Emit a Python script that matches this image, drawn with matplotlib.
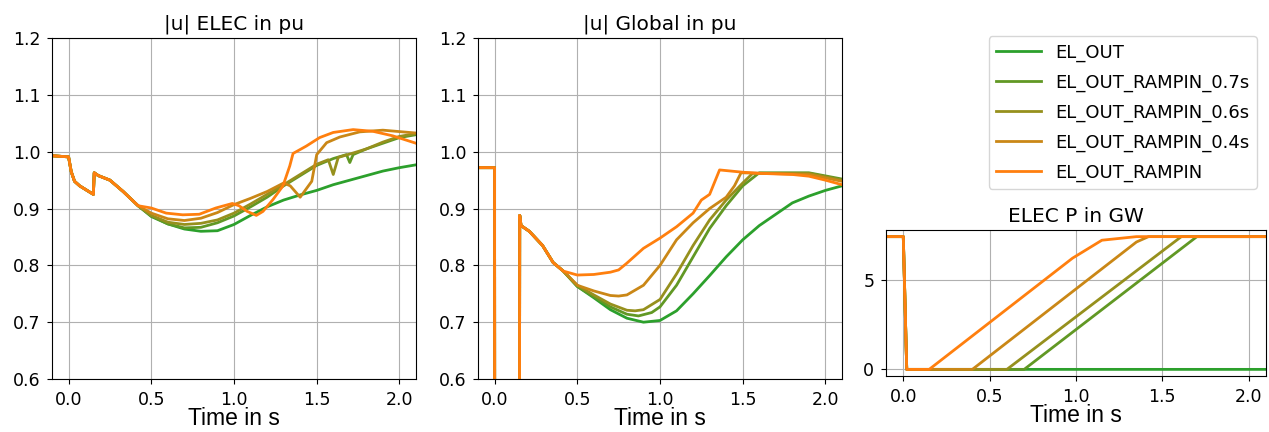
import numpy as np
import matplotlib.pyplot as plt

labels = ["EL_OUT", "EL_OUT_RAMPIN_0.7s", "EL_OUT_RAMPIN_0.6s",
          "EL_OUT_RAMPIN_0.4s", "EL_OUT_RAMPIN"]
colors = ["#2ca02c", "#619824", "#96901d", "#ca8716", "#ff7f0e"]

# |u| ELEC: common pre-fault / fault part, then one tail per case
elec_t_pre = [-0.1, 0.0, 0.016, 0.036, 0.067, 0.15, 0.155, 0.18, 0.25, 0.33, 0.42]
elec_u_pre = [0.993, 0.991, 0.965, 0.948, 0.940, 0.925, 0.963, 0.958, 0.950, 0.930, 0.905]

elec_t_out = [0.5, 0.6, 0.7, 0.8, 0.9, 1.0, 1.1, 1.2, 1.3, 1.4, 1.5, 1.6, 1.7, 1.8, 1.9, 2.0, 2.1]
elec_u_out = [0.886, 0.873, 0.864, 0.860, 0.861, 0.872, 0.888, 0.903, 0.915, 0.924, 0.932,
              0.942, 0.950, 0.958, 0.966, 0.972, 0.977]

elec_t_07 = [0.5, 0.6, 0.7, 0.8, 0.9, 1.0, 1.1, 1.2, 1.3, 1.4, 1.5, 1.6, 1.68, 1.70, 1.72,
             1.8, 1.9, 2.0, 2.1]
elec_u_07 = [0.887, 0.873, 0.866, 0.867, 0.875, 0.887, 0.903, 0.920, 0.940, 0.958, 0.976,
             0.988, 0.995, 0.981, 0.995, 1.005, 1.015, 1.025, 1.030]

elec_t_06 = [0.5, 0.6, 0.7, 0.8, 0.9, 1.0, 1.1, 1.2, 1.3, 1.4, 1.5, 1.57, 1.60, 1.63,
             1.7, 1.8, 1.9, 2.0, 2.1]
elec_u_06 = [0.888, 0.876, 0.872, 0.874, 0.880, 0.892, 0.908, 0.925, 0.942, 0.960, 0.978,
             0.986, 0.960, 0.990, 0.996, 1.005, 1.017, 1.027, 1.032]

elec_t_04 = [0.5, 0.6, 0.7, 0.8, 0.9, 1.0, 1.1, 1.2, 1.3, 1.34, 1.40, 1.47, 1.50, 1.56,
             1.64, 1.76, 1.9, 2.1]
elec_u_04 = [0.892, 0.882, 0.879, 0.883, 0.893, 0.907, 0.918, 0.930, 0.945, 0.940, 0.920,
             0.948, 0.995, 1.016, 1.026, 1.035, 1.038, 1.033]

elec_t_ramp = [0.5, 0.59, 0.69, 0.79, 0.89, 0.99, 1.03, 1.08, 1.135, 1.175, 1.236, 1.296,
               1.337, 1.357, 1.437, 1.518, 1.6, 1.72, 1.84, 1.96, 2.1]
elec_u_ramp = [0.901, 0.892, 0.889, 0.890, 0.901, 0.909, 0.905, 0.895, 0.888, 0.895, 0.916,
               0.940, 0.975, 0.997, 1.010, 1.025, 1.034, 1.039, 1.036, 1.028, 1.015]

# |u| Global
glob_t_pre = [-0.1, 0.0, 0.001, 0.15, 0.152, 0.16, 0.21, 0.29, 0.354, 0.415]
glob_u_pre = [0.972, 0.972, 0.3, 0.3, 0.888, 0.870, 0.860, 0.835, 0.805, 0.790]

glob_t_out = [0.5, 0.6, 0.7, 0.8, 0.9, 1.0, 1.1, 1.2, 1.3, 1.4, 1.5, 1.6, 1.7, 1.8, 1.9, 2.0, 2.1]
glob_u_out = [0.763, 0.743, 0.722, 0.707, 0.700, 0.703, 0.720, 0.750, 0.782, 0.815, 0.845,
              0.870, 0.890, 0.910, 0.922, 0.932, 0.940]

glob_t_07 = [0.5, 0.6, 0.7, 0.8, 0.87, 0.95, 1.0, 1.1, 1.2, 1.3, 1.4, 1.5, 1.6, 1.9, 2.1]
glob_u_07 = [0.763, 0.745, 0.727, 0.714, 0.711, 0.717, 0.727, 0.765, 0.815, 0.865, 0.905,
             0.940, 0.963, 0.963, 0.952]

glob_t_06 = [0.5, 0.6, 0.7, 0.8, 0.85, 0.9, 1.0, 1.1, 1.2, 1.3, 1.4, 1.5, 1.56, 1.9, 2.1]
glob_u_06 = [0.765, 0.748, 0.732, 0.721, 0.720, 0.722, 0.740, 0.785, 0.835, 0.880, 0.915,
             0.945, 0.962, 0.962, 0.950]

glob_t_04 = [0.5, 0.6, 0.7, 0.75, 0.8, 0.9, 1.0, 1.1, 1.2, 1.3, 1.35, 1.4, 1.45, 1.49, 1.9, 2.1]
glob_u_04 = [0.765, 0.755, 0.747, 0.746, 0.748, 0.765, 0.800, 0.845, 0.875, 0.900, 0.910,
             0.920, 0.940, 0.963, 0.960, 0.948]

glob_t_ramp = [0.5, 0.6, 0.7, 0.75, 0.8, 0.9, 1.0, 1.1, 1.2, 1.25, 1.3, 1.36, 1.5, 1.6,
               1.8, 1.9, 2.0, 2.1]
glob_u_ramp = [0.783, 0.784, 0.788, 0.792, 0.804, 0.830, 0.848, 0.868, 0.892, 0.915, 0.925,
               0.968, 0.964, 0.962, 0.960, 0.957, 0.950, 0.942]

# ELEC P in GW
p_t_out = [-0.1, 0.0, 0.02, 2.1]
p_v_out = [7.4, 7.4, 0.0, 0.0]
p_t_07 = [-0.1, 0.0, 0.02, 0.7, 1.7, 2.1]
p_v_07 = [7.4, 7.4, 0.0, 0.0, 7.4, 7.4]
p_t_06 = [-0.1, 0.0, 0.02, 0.6, 1.61, 2.1]
p_v_06 = [7.4, 7.4, 0.0, 0.0, 7.4, 7.4]
p_t_04 = [-0.1, 0.0, 0.02, 0.4, 1.35, 1.42, 2.1]
p_v_04 = [7.4, 7.4, 0.0, 0.0, 7.1, 7.4, 7.4]
p_t_ramp = [-0.1, 0.0, 0.02, 0.15, 0.98, 1.15, 1.35, 2.1]
p_v_ramp = [7.4, 7.4, 0.0, 0.0, 6.2, 7.2, 7.4, 7.4]

elec_tails = [(elec_t_out, elec_u_out), (elec_t_07, elec_u_07), (elec_t_06, elec_u_06),
              (elec_t_04, elec_u_04), (elec_t_ramp, elec_u_ramp)]
glob_tails = [(glob_t_out, glob_u_out), (glob_t_07, glob_u_07), (glob_t_06, glob_u_06),
              (glob_t_04, glob_u_04), (glob_t_ramp, glob_u_ramp)]
p_series = [(p_t_out, p_v_out), (p_t_07, p_v_07), (p_t_06, p_v_06),
            (p_t_04, p_v_04), (p_t_ramp, p_v_ramp)]

fig = plt.figure(figsize=(12.69, 4.32), dpi=100)
ax1 = fig.add_axes([0.041, 0.1227, 0.2868, 0.789])
ax2 = fig.add_axes([0.3767, 0.1227, 0.2868, 0.789])
ax3 = fig.add_axes([0.6982, 0.1296, 0.2994, 0.338])

xfont = dict(family="Liberation Sans", fontsize=16.5)

for i in range(5):
    t, u = elec_tails[i]
    ax1.plot(elec_t_pre + t, elec_u_pre + u, color=colors[i], lw=2, label=labels[i])
    t, u = glob_tails[i]
    ax2.plot(glob_t_pre + t, glob_u_pre + u, color=colors[i], lw=2)
    t, v = p_series[i]
    ax3.plot(t, v, color=colors[i], lw=2)

for ax, title in [(ax1, "|u| ELEC in pu"), (ax2, "|u| Global in pu")]:
    ax.set_ylim(0.6, 1.2)
    ax.set_title(title, fontsize=14.5)

ax3.set_title("ELEC P in GW", fontsize=14.5)
ax3.set_yticks([0, 5])

for ax in (ax1, ax2, ax3):
    ax.set_xlim(-0.1, 2.1)
    ax.set_xticks([0.0, 0.5, 1.0, 1.5, 2.0])
    ax.grid(True)
    ax.tick_params(labelsize=12.5, pad=5)
    ax.set_xlabel("Time in s", labelpad=-1, **xfont)

handles, labs = ax1.get_legend_handles_labels()
fig.legend(handles, labs, loc="upper right", bbox_to_anchor=(1266 / 1269, 1 - 27 / 432),
           fontsize=13, handlelength=2.5, labelspacing=0.65)

fig.savefig("out.png", dpi=100)
